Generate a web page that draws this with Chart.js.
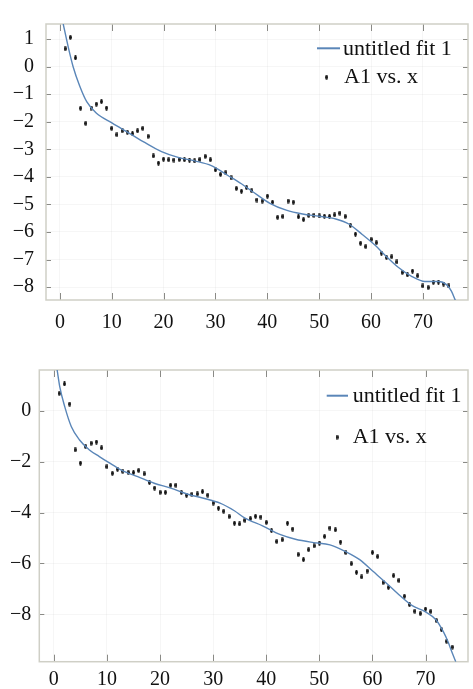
<!DOCTYPE html>
<html><head><meta charset="utf-8">
<script src="https://cdn.jsdelivr.net/npm/chart.js@4.4.1/dist/chart.umd.min.js"></script>
<style>
html,body{margin:0;padding:0;background:#fff;width:473px;height:689px;overflow:hidden}
.box{position:absolute;left:0;width:473px}
#b1{top:0;height:330px}
#b2{top:340px;height:349px}
</style></head><body>
<div class="box" id="b1"><canvas id="c1" width="473" height="330"></canvas></div>
<div class="box" id="b2"><canvas id="c2" width="473" height="349"></canvas></div>
<script>
// ---------- data ----------
const seriesNames = ['untitled fit 1', 'A1 vs. x'];
const xValues = [1,2,3,4,5,6,7,8,9,10,11,12,13,14,15,16,17,18,19,20,21,22,23,24,25,26,27,28,29,30,31,32,33,34,35,36,37,38,39,40,41,42,43,44,45,46,47,48,49,50,51,52,53,54,55,56,57,58,59,60,61,62,63,64,65,66,67,68,69,70,71,72,73,74,75];
const topA1 = [0.65,1.06,0.32,-1.51,-2.06,-1.50,-1.36,-1.27,-1.50,-2.24,-2.47,-2.33,-2.38,-2.43,-2.33,-2.24,-2.53,-3.24,-3.50,-3.36,-3.38,-3.39,-3.37,-3.38,-3.39,-3.42,-3.37,-3.26,-3.38,-3.75,-3.91,-3.85,-4.04,-4.42,-4.52,-4.39,-4.50,-4.84,-4.88,-4.70,-4.92,-5.47,-5.44,-4.88,-4.92,-5.45,-5.55,-5.40,-5.40,-5.42,-5.43,-5.44,-5.38,-5.32,-5.44,-5.76,-6.08,-6.41,-6.53,-6.27,-6.39,-6.77,-6.93,-6.90,-7.09,-7.47,-7.56,-7.42,-7.59,-7.96,-8.02,-7.83,-7.82,-7.89,-7.96];
const bottomA1 = [0.68,1.05,0.26,-1.54,-2.06,-1.41,-1.28,-1.23,-1.46,-2.20,-2.46,-2.30,-2.38,-2.43,-2.43,-2.35,-2.48,-2.82,-3.04,-3.21,-3.21,-2.93,-2.93,-3.21,-3.32,-3.29,-3.27,-3.18,-3.32,-3.63,-3.83,-3.95,-4.16,-4.42,-4.45,-4.31,-4.24,-4.15,-4.18,-4.39,-4.71,-5.14,-5.07,-4.42,-4.65,-5.65,-5.85,-5.46,-5.31,-5.20,-4.94,-4.61,-4.68,-5.16,-5.57,-6.01,-6.35,-6.53,-6.30,-5.57,-5.73,-6.75,-6.94,-6.48,-6.67,-7.29,-7.62,-7.88,-7.97,-7.79,-7.89,-8.24,-8.60,-9.06,-9.29];
const topFitX = [0.64,1.6,2.55,3.8,5.2,7.0,10.1,13.25,16.44,19.6,22.8,26.0,29.2,32.4,35.0,37.2,40.5,43.65,46.8,50.0,53.2,55.8,58.3,60.9,62.8,65.3,67.9,70.4,73.0,74.6,75.5,76.3];
const topFitY = [1.55,0.72,0.0,-0.69,-1.28,-1.68,-2.05,-2.4,-2.76,-3.08,-3.29,-3.42,-3.59,-3.95,-4.25,-4.54,-4.96,-5.21,-5.35,-5.43,-5.53,-5.72,-6.09,-6.5,-6.86,-7.29,-7.62,-7.8,-7.8,-7.92,-8.15,-8.5];
const bottomFitX = [0.62,1.12,2.05,3.3,4.84,6.7,8.57,10.3,12.7,15.8,18.9,22.0,25.1,28.2,31.3,34.0,36.0,39.3,42.7,45.5,48.9,52.0,55.1,57.6,60.1,62.6,65.0,67.5,70.0,72.0,73.4,74.2,75.0,75.7];
const bottomFitY = [1.6,0.94,0.16,-0.63,-1.15,-1.54,-1.8,-2.03,-2.33,-2.59,-2.85,-3.04,-3.27,-3.44,-3.63,-3.93,-4.22,-4.52,-4.87,-5.05,-5.18,-5.27,-5.55,-5.85,-6.31,-6.77,-7.23,-7.66,-7.9,-8.22,-8.7,-9.06,-9.5,-9.86];
const xTickStep = 10;
const topYTickStep = 1;
const bottomYTickStep = 2;

// ---------- styles ----------
const FIT_COLOR = '#5a86b8';
const FRAME_COLOR = '#cfcfc6';
const TICK_COLOR = '#8a8a86';
const FONT = '"Liberation Serif", "Times New Roman", serif';

const dot = document.createElement('canvas');
dot.width = 3; dot.height = 5;
(function(){const c = dot.getContext('2d'); c.fillStyle = '#111'; c.beginPath(); c.ellipse(1.5,2.5,1.4,2.4,0,0,Math.PI*2); c.fill();})();

const fmt = v => v < 0 ? '\u2212' + Math.abs(v) : String(v);

const framePlugin = {
  id: 'frame',
  beforeDatasetsDraw(chart) {
    const {ctx, chartArea: a, scales} = chart;
    ctx.save();
    ctx.strokeStyle = TICK_COLOR; ctx.lineWidth = 1;
    ctx.beginPath();
    scales.x.ticks.forEach(t => {
      const px = Math.round(scales.x.getPixelForValue(t.value)) + 0.5;
      ctx.moveTo(px, a.bottom); ctx.lineTo(px, a.bottom - 7);
      ctx.moveTo(px, a.top); ctx.lineTo(px, a.top + 7);
    });
    scales.y.ticks.forEach(t => {
      const py = Math.round(scales.y.getPixelForValue(t.value)) + 0.5;
      ctx.moveTo(a.left, py); ctx.lineTo(a.left + 5, py);
      ctx.moveTo(a.right, py); ctx.lineTo(a.right - 5, py);
    });
    ctx.stroke();
    ctx.strokeStyle = FRAME_COLOR; ctx.lineWidth = 1.5;
    ctx.strokeRect(a.left, a.top, a.right - a.left, a.bottom - a.top);
    ctx.restore();
  },
  afterDraw(chart, args, opts) {
    const ctx = chart.ctx; const L = opts.legend; if (!L) return;
    ctx.save();
    ctx.font = '22px ' + FONT; ctx.fillStyle = '#111'; ctx.textBaseline = 'alphabetic';
    ctx.strokeStyle = FIT_COLOR; ctx.lineWidth = 2;
    ctx.beginPath(); ctx.moveTo(L.lineX1, L.lineY); ctx.lineTo(L.lineX2, L.lineY); ctx.stroke();
    ctx.fillText(seriesNames[0], L.text1X, L.text1Y);
    ctx.drawImage(dot, L.dotX - 1.5, L.dotY - 2.5);
    ctx.fillText(seriesNames[1], L.text2X, L.text2Y);
    ctx.restore();
  }
};

function makeChart(id, fitX, fitY, pts, xr, yr, yStep, pad, yW, xH, yPad, xPad, legend) {
  return new Chart(document.getElementById(id), {
    type: 'scatter',
    data: {
      datasets: [
        { label: seriesNames[0], data: fitX.map((x, i) => ({x, y: fitY[i]})), showLine: true,
          borderColor: FIT_COLOR, borderWidth: 1.4, pointRadius: 0, cubicInterpolationMode: 'monotone', fill: false },
        { label: seriesNames[1], data: xValues.map((x, i) => ({x, y: pts[i]})), pointStyle: dot, pointRadius: 2,
          backgroundColor: '#111', borderColor: '#111' }
      ]
    },
    options: {
      responsive: false, animation: false, events: [],
      layout: { padding: pad },
      plugins: { legend: { display: false }, tooltip: { enabled: false }, frame: { legend } },
      scales: {
        x: { type: 'linear', min: xr[0], max: xr[1],
             afterFit: s => { s.height = xH; },
             grid: { color: 'rgba(0,0,0,0.035)', drawTicks: false },
             border: { display: false },
             ticks: { stepSize: xTickStep, includeBounds: false, padding: xPad, color: '#111', font: { family: FONT, size: 20 }, maxRotation: 0, callback: fmt } },
        y: { type: 'linear', min: yr[0], max: yr[1],
             afterFit: s => { s.width = yW; },
             grid: { color: 'rgba(0,0,0,0.035)', drawTicks: false },
             border: { display: false },
             ticks: { stepSize: yStep, includeBounds: false, padding: yPad, color: '#111', font: { family: FONT, size: 20 }, callback: fmt } }
      }
    },
    plugins: [framePlugin]
  });
}

makeChart('c1', topFitX, topFitY, topA1, [-2.68, 78.7], [-8.47, 1.55], topYTickStep,
  { top: 16, right: 1.3, left: 0, bottom: 0 }, 46, 30, 12, 11,
  { lineX1: 317, lineX2: 340, lineY: 48.3, text1X: 343, text1Y: 55, dotX: 326.7, dotY: 77.3, text2X: 344, text2Y: 83.3 });

makeChart('c2', bottomFitX, bottomFitY, bottomA1, [-2.74, 78], [-9.86, 1.6], bottomYTickStep,
  { top: 30, right: 0.5, left: 0, bottom: 0 }, 39.3, 27.3, 8, 6,
  { lineX1: 326.7, lineX2: 348, lineY: 55.7, text1X: 352.7, text1Y: 61.7, dotX: 337, dotY: 97.3, text2X: 352.7, text2Y: 103.3 });
</script>
</body></html>
